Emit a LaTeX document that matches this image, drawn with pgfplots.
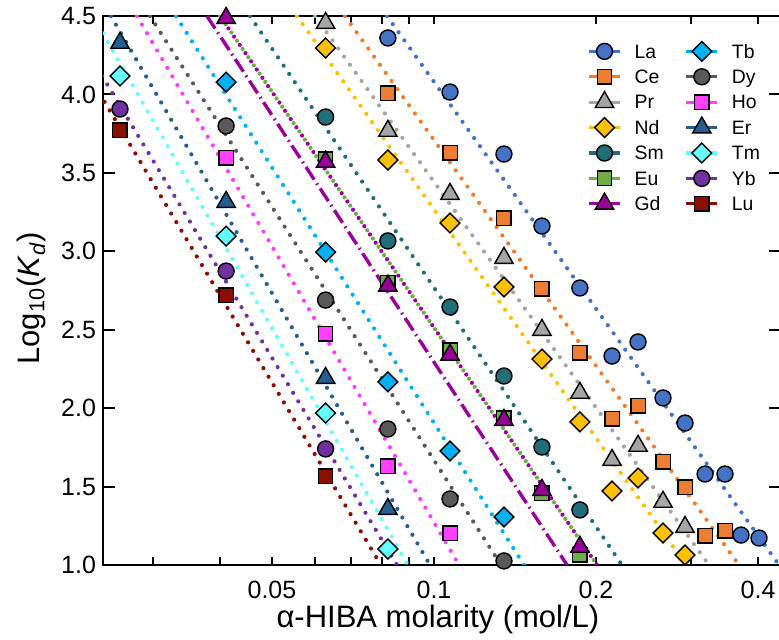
\documentclass[border=0pt]{standalone}
\usepackage{fontspec}
\setmainfont{Liberation Sans}
\usepackage{pgfplots}
\pgfplotsset{compat=1.18}

\definecolor{cLa}{HTML}{4472C4}
\definecolor{cCe}{HTML}{ED7D31}
\definecolor{cPr}{HTML}{A5A5A5}
\definecolor{cNd}{HTML}{FFC000}
\definecolor{cSm}{HTML}{1F6E78}
\definecolor{cEu}{HTML}{70AD47}
\definecolor{cGd}{HTML}{990099}
\definecolor{cTb}{HTML}{00B0F0}
\definecolor{cDy}{HTML}{595959}
\definecolor{cHo}{HTML}{FF40FF}
\definecolor{cEr}{HTML}{255E91}
\definecolor{cTm}{HTML}{66FFFF}
\definecolor{cYb}{HTML}{7030A0}
\definecolor{cLu}{HTML}{8B0E00}

\pgfplotsset{
  fitline/.style={color=#1, line width=2.1pt, line cap=round, dash pattern=on 0pt off 5pt, forget plot},
  circ/.style={mark=*, mark size=4pt, mark options={solid, draw=black, fill=#1, line width=0.7pt}},
  sq/.style={mark=square*, mark size=3.6pt, mark options={solid, draw=black, fill=#1, line width=0.7pt}},
  tri/.style={mark=triangle*, mark size=5.3pt, mark options={solid, draw=black, fill=#1, line width=0.7pt}},
  dia/.style={mark=square*, mark size=3.5pt, mark options={solid, rotate=45, draw=black, fill=#1, line width=0.7pt}},
  pts/.style={only marks, forget plot},
  leg/.style={color=#1, line width=1.6pt, solid},
}

\begin{document}
\begin{tikzpicture}
\path[use as bounding box] (-51.5pt,-37.5pt) rectangle (338pt,282.5pt);
\begin{axis}[
  at={(0pt,0pt)}, anchor=south west,
  scale only axis, width=339pt, height=274.5pt,
  xmode=log, xmin=0.02427, xmax=0.4413, ymin=1, ymax=4.5,
  xtick={0.03,0.04,0.05,0.06,0.07,0.08,0.09,0.1,0.2,0.3,0.4},
  xticklabels={,,0.05,,,,,0.1,0.2,,0.4},
  minor xtick={},
  ytick={1,1.5,2,2.5,3,3.5,4,4.5},
  yticklabel style={/pgf/number format/.cd, fixed, fixed zerofill, precision=1},
  /pgf/number format/assume math mode=true,
  tick label style={font=\fontsize{12.5}{14}\selectfont},
  xticklabel style={yshift=-4.4pt},
  tick style={black, line width=1pt},
  xtick style={/pgfplots/major tick length=4pt},
  ytick style={/pgfplots/major tick length=6pt},
  axis line style={line width=1.2pt},
  clip mode=individual,
  xlabel={α-HIBA molarity (mol/L)},
  ylabel={Log\textsubscript{10}(\textit{K}\textsubscript{\textit{d}})},
  label style={font=\fontsize{15.5}{18}\selectfont},
  xlabel style={at={(axis description cs:0.494,-0.113)}, anchor=base},
  ylabel style={at={(axis description cs:-0.094,0.486)}, anchor=base},
  legend columns=2,
  legend image code/.code={\draw[mark repeat=2,mark phase=2,#1] plot coordinates {(0pt,0pt) (7.75pt,0pt) (15.5pt,0pt)};},
  legend cell align=left,
  legend style={draw=none, fill=none, inner sep=0pt,
    at={(axis description cs:0.7139,0.9563)}, anchor=north west,
    font=\fontsize{9.7}{11}\selectfont,
    nodes={inner sep=0pt, text height=8.9pt, text depth=2.1pt},
    row sep=1.7pt, column sep=6.5pt,
    /tikz/every even column/.append style={column sep=10.5pt}},
]

% ---- fit lines ----
\addplot[fitline=cLu] coordinates {(0.01963,4.5) (0.0797,1.0)};
\addplot[fitline=cYb] coordinates {(0.02071,4.5) (0.08536,1.0)};
\addplot[fitline=cTm] coordinates {(0.02325,4.5) (0.08947,1.0)};
\addplot[fitline=cEr] coordinates {(0.02511,4.5) (0.0983,1.0)};
\addplot[fitline=cHo] coordinates {(0.02806,4.5) (0.1113,1.0)};
\addplot[fitline=cDy] coordinates {(0.02967,4.5) (0.1332,1.0)};
\addplot[fitline=cTb] coordinates {(0.03316,4.5) (0.1470,1.0)};
\addplot[color=cGd, line width=1.7pt, dash pattern=on 7.5pt off 2.3pt on 0.8pt off 2.3pt, forget plot] coordinates {(0.03786,4.5) (0.1767,1.0)};
\addplot[fitline=cEu] coordinates {(0.04003,4.5) (0.2009,1.0)};
\addplot[fitline=cGd, dash phase=2.5pt] coordinates {(0.04003,4.5) (0.2009,1.0)};
\addplot[fitline=cSm] coordinates {(0.04551,4.5) (0.2235,1.0)};
\addplot[fitline=cNd] coordinates {(0.05564,4.5) (0.2940,1.0)};
\addplot[fitline=cPr] coordinates {(0.0601,4.5) (0.3243,1.0)};
\addplot[fitline=cCe] coordinates {(0.06833,4.5) (0.3687,1.0)};
\addplot[fitline=cLa] coordinates {(0.08178,4.5) (0.4376,1.0)};

% ---- data points ----
\addplot[pts, circ=cLa] coordinates {(0.0821,4.36) (0.1071,4.015) (0.1349,3.62) (0.1587,3.161) (0.1867,2.766) (0.2142,2.332) (0.2394,2.422) (0.2664,2.065) (0.2927,1.905) (0.3189,1.58) (0.3473,1.58) (0.3719,1.191) (0.4017,1.172)};
\addplot[pts, sq=cCe] coordinates {(0.0821,4.009) (0.1071,3.627) (0.1349,3.212) (0.1587,2.76) (0.1867,2.352) (0.2142,1.931) (0.2394,2.014) (0.2664,1.657) (0.2927,1.497) (0.3189,1.185) (0.3473,1.217)};
\addplot[pts, tri=cPr] coordinates {(0.0629,4.455) (0.0821,3.767) (0.1071,3.365) (0.1349,2.957) (0.1587,2.498) (0.1867,2.097) (0.2142,1.669) (0.2394,1.759) (0.2664,1.402) (0.2927,1.242)};
\addplot[pts, dia=cNd] coordinates {(0.0629,4.296) (0.0821,3.582) (0.1071,3.18) (0.1349,2.772) (0.1587,2.313) (0.1867,1.912) (0.2142,1.472) (0.2394,1.555) (0.2664,1.204) (0.2927,1.064)};
\addplot[pts, circ=cSm] coordinates {(0.0629,3.856) (0.0821,3.066) (0.1071,2.645) (0.1349,2.205) (0.1587,1.752) (0.1867,1.351)};
\addplot[pts, sq=cEu] coordinates {(0.0629,3.588) (0.0821,2.80) (0.1071,2.37) (0.1349,1.935) (0.1587,1.459) (0.1867,1.064)};
\addplot[pts, tri=cGd] coordinates {(0.0411,4.487) (0.0629,3.57) (0.0821,2.78) (0.1071,2.34) (0.1349,1.924) (0.1587,1.478) (0.1867,1.115)};
\addplot[pts, dia=cTb] coordinates {(0.0411,4.079) (0.0629,2.995) (0.0821,2.167) (0.1071,1.727) (0.1349,1.306)};
\addplot[pts, circ=cDy] coordinates {(0.0411,3.799) (0.0629,2.689) (0.0821,1.867) (0.1071,1.421) (0.1349,1.026)};
\addplot[pts, sq=cHo] coordinates {(0.0411,3.595) (0.0629,2.473) (0.0821,1.631) (0.1071,1.204)};
\addplot[pts, tri=cEr] coordinates {(0.0261,4.328) (0.0411,3.314) (0.0629,2.192) (0.0821,1.357)};
\addplot[pts, dia=cTm] coordinates {(0.0261,4.117) (0.0411,3.097) (0.0629,1.969) (0.0821,1.102)};
\addplot[pts, circ=cYb] coordinates {(0.0261,3.907) (0.0411,2.874) (0.0629,1.74)};
\addplot[pts, sq=cLu] coordinates {(0.0261,3.773) (0.0411,2.721) (0.0629,1.567)};

% ---- legend (row-wise: two columns) ----
\addlegendimage{leg=cLa, circ=cLa}\addlegendentry{La}
\addlegendimage{leg=cTb, dia=cTb}\addlegendentry{Tb}
\addlegendimage{leg=cCe, sq=cCe}\addlegendentry{Ce}
\addlegendimage{leg=cDy, circ=cDy}\addlegendentry{Dy}
\addlegendimage{leg=cPr, tri=cPr}\addlegendentry{Pr}
\addlegendimage{leg=cHo, sq=cHo}\addlegendentry{Ho}
\addlegendimage{leg=cNd, dia=cNd}\addlegendentry{Nd}
\addlegendimage{leg=cEr, tri=cEr}\addlegendentry{Er}
\addlegendimage{leg=cSm, circ=cSm}\addlegendentry{Sm}
\addlegendimage{leg=cTm, dia=cTm}\addlegendentry{Tm}
\addlegendimage{leg=cEu, sq=cEu}\addlegendentry{Eu}
\addlegendimage{leg=cYb, circ=cYb}\addlegendentry{Yb}
\addlegendimage{leg=cGd, tri=cGd}\addlegendentry{Gd}
\addlegendimage{leg=cLu, sq=cLu}\addlegendentry{Lu}
\end{axis}
\end{tikzpicture}
\end{document}
